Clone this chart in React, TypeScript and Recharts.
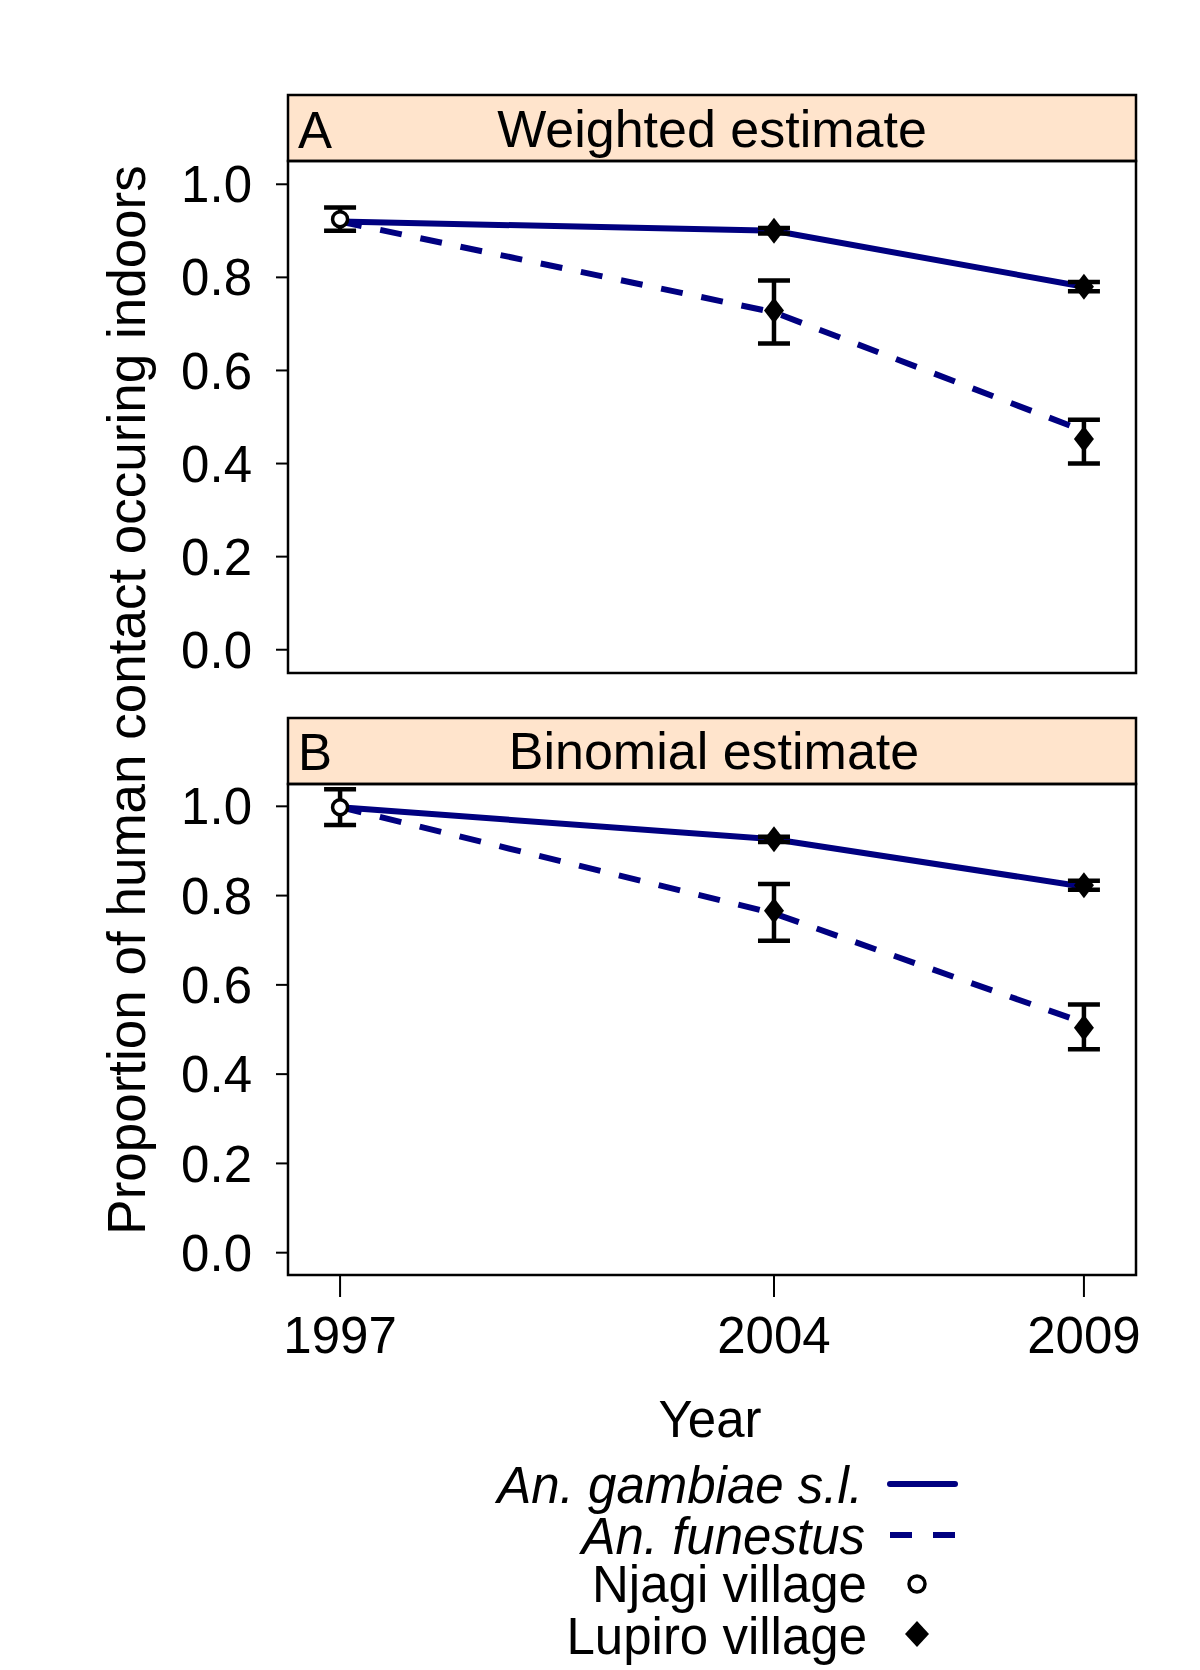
import { ComposedChart, Line, Scatter, ErrorBar, XAxis, YAxis, ReferenceArea } from 'recharts';

const years = [1997, 2004, 2009];
const yTicks = [0, 0.2, 0.4, 0.6, 0.8, 1.0];

// fitted lines (start at Njagi 1997)
const weightedGambiae = [0.92, 0.9, 0.78];
const weightedFunestus = [0.92, 0.725, 0.47];
const binomialGambiae = [0.998, 0.926, 0.82];
const binomialFunestus = [0.998, 0.76, 0.515];

// observed points with error deltas [below, above]
const njagiYears = [1997];
const njagiWeighted = [0.925];
const njagiWeightedErr = [[0.025, 0.025]];
const njagiBinomial = [0.998];
const njagiBinomialErr = [[0.04, 0.04]];

const lupiroYears = [2004, 2009, 2004, 2009];
const lupiroWeighted = [0.9, 0.78, 0.729, 0.453];
const lupiroWeightedErr = [[0.006, 0.006], [0.01, 0.01], [0.071, 0.064], [0.053, 0.041]];
const lupiroBinomial = [0.926, 0.823, 0.766, 0.504];
const lupiroBinomialErr = [[0.006, 0.006], [0.01, 0.01], [0.067, 0.06], [0.048, 0.052]];

const xDomain: [number, number] = [1996.16, 2009.84];
const yDomain: [number, number] = [-0.05, 1.05];

const FONT = '"Liberation Sans", Arial, Helvetica, sans-serif';
const NAVY = '#000080';
const STRIP = '#FFE4CC';

const toLine = (vals: number[]) => years.map((year, i) => ({ year, value: vals[i] }));
const toPoints = (xs: number[], vals: number[], errs: number[][]) =>
  xs.map((year, i) => ({ year, value: vals[i], err: errs[i] }));

function Diamond(props: any) {
  const { cx, cy } = props;
  if (cx == null || cy == null) return null;
  return <polygon points={`${cx},${cy - 13} ${cx + 10},${cy} ${cx},${cy + 13} ${cx - 10},${cy}`} fill="#000" />;
}

function OpenCircle(props: any) {
  const { cx, cy } = props;
  if (cx == null || cy == null) return null;
  return <circle cx={cx} cy={cy} r={7.5} fill="#fff" stroke="#000" strokeWidth={3.5} />;
}

const PAD = 40;

function Panel({ gambiae, funestus, njagi, lupiro, plotHeight, showX }: any) {
  const xHeight = showX ? 100 : 0;
  return (
    <ComposedChart
      width={992}
      height={plotHeight + PAD + (showX ? xHeight : PAD)}
      margin={{ top: PAD, right: 14, bottom: showX ? 0 : PAD, left: 0 }}
    >
      <XAxis
        type="number"
        dataKey="year"
        domain={xDomain}
        allowDataOverflow
        ticks={years}
        interval={0}
        hide={!showX}
        height={xHeight}
        axisLine={false}
        tickLine={{ stroke: '#000', strokeWidth: 2 }}
        tickSize={22}
        tickMargin={20}
        tick={{ fill: '#000', fontSize: 51, fontFamily: FONT }}
      />
      <YAxis
        type="number"
        domain={yDomain}
        allowDataOverflow
        ticks={yTicks}
        interval={0}
        tickFormatter={(v: number) => v.toFixed(1)}
        width={130}
        axisLine={false}
        tickLine={{ stroke: '#000', strokeWidth: 2 }}
        tickSize={12}
        tickMargin={24}
        tick={{ fill: '#000', fontSize: 51, fontFamily: FONT }}
      />
      <ReferenceArea
        x1={xDomain[0]}
        x2={xDomain[1]}
        y1={yDomain[0]}
        y2={yDomain[1]}
        fill="none"
        stroke="#000"
        strokeWidth={2.5}
        ifOverflow="visible"
      />
      <Line data={gambiae} dataKey="value" stroke={NAVY} strokeWidth={6} dot={false} isAnimationActive={false} />
      <Line
        data={funestus}
        dataKey="value"
        stroke={NAVY}
        strokeWidth={6}
        strokeDasharray="22 19"
        dot={false}
        isAnimationActive={false}
      />
      <Scatter data={lupiro} dataKey="value" shape={Diamond} isAnimationActive={false}>
        <ErrorBar dataKey="err" direction="y" width={16} stroke="#000" strokeWidth={4.5} isAnimationActive={false} />
      </Scatter>
      <Scatter data={njagi} dataKey="value" shape={OpenCircle} isAnimationActive={false}>
        <ErrorBar dataKey="err" direction="y" width={16} stroke="#000" strokeWidth={4.5} isAnimationActive={false} />
      </Scatter>
    </ComposedChart>
  );
}

export default function App() {
  const textStyle = { fontFamily: FONT, fontSize: 51, fill: '#000' };
  return (
    <div style={{ position: 'absolute', left: 0, top: 0, width: 1200, height: 1670, background: '#fff' }}>
      <svg width={1200} height={1670} style={{ position: 'absolute', left: 0, top: 0 }}>
        <text
          transform="translate(126,700) rotate(-90)"
          textAnchor="middle"
          dominantBaseline="central"
          style={{ ...textStyle, fontSize: 53 }}
        >
          Proportion of human contact occuring indoors
        </text>
        {/* strips */}
        <rect x={288} y={95} width={848} height={66} fill={STRIP} stroke="#000" strokeWidth={2.5} />
        <text x={298} y={148} style={textStyle}>A</text>
        <text x={712} y={147} textAnchor="middle" style={{ ...textStyle, fontSize: 52 }}>Weighted estimate</text>
        <rect x={288} y={718} width={848} height={66} fill={STRIP} stroke="#000" strokeWidth={2.5} />
        <text x={298} y={770} style={textStyle}>B</text>
        <text x={714} y={769} textAnchor="middle" style={{ ...textStyle, fontSize: 52 }}>Binomial estimate</text>
        <text x={710} y={1437} textAnchor="middle" style={textStyle}>Year</text>
        {/* legend */}
        <text x={863} y={1503} textAnchor="end" style={{ ...textStyle, fontStyle: 'italic' }}>An. gambiae s.l.</text>
        <line x1={890} x2={955} y1={1484} y2={1484} stroke={NAVY} strokeWidth={6} strokeLinecap="round" />
        <text x={865} y={1554} textAnchor="end" style={{ ...textStyle, fontStyle: 'italic' }}>An. funestus</text>
        <line x1={890} x2={955} y1={1535} y2={1535} stroke={NAVY} strokeWidth={6} strokeDasharray="22 21" />
        <text x={867} y={1602} textAnchor="end" style={textStyle}>Njagi village</text>
        <circle cx={917} cy={1584} r={8} fill="#fff" stroke="#000" strokeWidth={3.5} />
        <text x={867} y={1654} textAnchor="end" style={textStyle}>Lupiro village</text>
        <polygon points="917,1621 929,1634 917,1647 905,1634" fill="#000" />
      </svg>
      <div style={{ position: 'absolute', left: 158, top: 161 - PAD }}>
        <Panel
          gambiae={toLine(weightedGambiae)}
          funestus={toLine(weightedFunestus)}
          njagi={toPoints(njagiYears, njagiWeighted, njagiWeightedErr)}
          lupiro={toPoints(lupiroYears, lupiroWeighted, lupiroWeightedErr)}
          plotHeight={512}
          showX={false}
        />
      </div>
      <div style={{ position: 'absolute', left: 158, top: 784 - PAD }}>
        <Panel
          gambiae={toLine(binomialGambiae)}
          funestus={toLine(binomialFunestus)}
          njagi={toPoints(njagiYears, njagiBinomial, njagiBinomialErr)}
          lupiro={toPoints(lupiroYears, lupiroBinomial, lupiroBinomialErr)}
          plotHeight={491}
          showX
        />
      </div>
    </div>
  );
}
